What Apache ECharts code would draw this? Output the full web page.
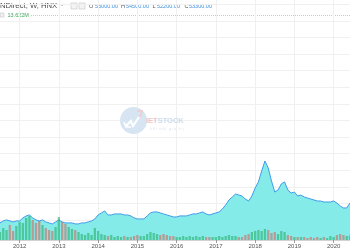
<!DOCTYPE html>
<html>
<head>
<meta charset="utf-8">
<script src="https://cdn.jsdelivr.net/npm/echarts@6/dist/echarts.min.js"></script>
<style>html,body{margin:0;padding:0;background:#fff}#c{width:350px;height:250px}</style>
</head>
<body>
<div id="c"></div>
<script>
// Monthly categories: 2011-07 .. 2020-06
const startYear = 2011, startMonth = 7, monthCount = 108;
const months = [];
for (let k = 0; k < monthCount; k++) {
  const m = startMonth - 1 + k;
  const y = startYear + Math.floor(m / 12);
  const mm = (m % 12) + 1;
  months.push(y + '-' + (mm < 10 ? '0' + mm : mm));
}
const yearLabels = ['2012','2013','2014','2015','2016','2017','2018','2019','2020'];

// Price (thousand VND)
const price = [
  41.3,42.5,43.1,42.5,41.9,42.5,42.5,44.3,45.5,46.1,44.3,43.1,
  42.5,43.1,41.9,41.3,40.7,41.9,43.1,41.9,41.3,41.3,41.3,40.7,
  40.7,41.3,41.3,41.9,42.5,43.7,46.1,47.3,48.5,46.1,46.1,46.7,
  46.7,46.7,46.1,46.1,45.5,44.3,43.7,43.7,43.7,45.5,47.3,47.9,
  47.9,47.3,46.7,46.1,45.5,44.9,44.9,45.5,45.5,45.5,46.1,46.7,
  46.7,47.3,47.9,46.7,46.1,46.7,47.3,47.9,49.7,52.1,55.1,56.9,
  58.7,58.1,57.5,55.7,54.5,57.5,62.3,66.0,72.6,78.6,74.4,66.6,
  59.9,61.1,64.8,66.0,61.1,59.3,59.9,57.5,58.1,56.9,56.3,55.7,
  55.1,54.5,54.5,53.9,53.9,53.9,54.5,53.3,51.5,50.3,50.3,53.3
];

// Volume (millions of shares)
const volume = [
  24,36,30,45,27,42,54,51,66,72,60,51,
  57,45,36,30,27,39,69,54,48,39,33,30,
  24,18,15,21,15,36,27,18,15,12,15,9,
  12,9,12,9,9,12,15,12,12,18,24,21,
  18,15,18,15,12,12,9,9,12,9,12,9,
  12,9,12,9,9,9,9,12,9,12,15,12,
  12,9,9,15,18,24,27,30,27,33,30,21,
  24,18,27,24,15,12,9,9,9,9,6,9,
  6,9,6,9,6,12,9,15,18,15,12,13.622
];

const header = { name: 'NDirect, W, HNX', open: '53000.00', high: '54500.00', low: '52200.00', close: '53300.00', vol: '13.622M' };

const isJan = (i, v) => String(v).endsWith('-01');

const chart = echarts.init(document.getElementById('c'), null, { renderer: 'canvas' });

const volColors = volume.map((v, i) => (i === 0 || price[i] >= price[i - 1]) ? 'rgba(40,175,105,0.6)' : 'rgba(225,80,70,0.5)');

const hdrFont = '"Liberation Sans", Arial, sans-serif';

chart.setOption({
  animation: false,
  backgroundColor: '#ffffff',
  grid: [
    { left: -2, right: 0, top: 0, bottom: 10 },
    { left: -2, right: 0, top: 4.2, bottom: 13.4 }
  ],
  xAxis: [
    {
      type: 'category', gridIndex: 0, data: months, boundaryGap: false,
      axisLine: { show: true, onZero: false, lineStyle: { color: '#d2d2d2', width: 2 } },
      axisTick: { show: true, interval: isJan, length: 3, lineStyle: { color: '#9a9a9a', width: 1 } },
      axisLabel: { interval: isJan, formatter: v => yearLabels.includes(v.slice(0, 4)) ? v.slice(0, 4) : '', fontSize: 6, color: '#555', margin: 3, fontFamily: hdrFont },
      splitLine: { show: true, interval: isJan, lineStyle: { color: '#f0f0f0', width: 1 } }
    },
    { type: 'category', gridIndex: 1, data: months, boundaryGap: false, show: false }
  ],
  yAxis: [
    { type: 'value', gridIndex: 0, min: 31.0, max: 175.6, show: false },
    { type: 'value', gridIndex: 0, min: 0, max: 720, show: false },
    {
      type: 'value', gridIndex: 1, min: 0, max: 14, interval: 1,
      axisLabel: { show: false }, axisTick: { show: false }, axisLine: { show: false },
      splitLine: { show: true, lineStyle: { color: '#f0f0f0', width: 1 } }
    }
  ],
  series: [
    {
      type: 'line', xAxisIndex: 0, yAxisIndex: 0, data: price, symbol: 'none',
      lineStyle: { color: '#3f9be8', width: 1 },
      areaStyle: { color: '#84ebe9', opacity: 1, origin: 'start' },
      z: 2
    },
    {
      type: 'bar', xAxisIndex: 0, yAxisIndex: 1,
      data: volume.map((v, i) => ({ value: v, itemStyle: { color: volColors[i] } })),
      barWidth: '70%', z: 3
    }
  ],
  graphic: [
    { type: 'text', left: 0, top: 1.5, style: { text: header.name, fontSize: 7.7, fill: '#4a4a4a', font: '7.7px ' + hdrFont } },
    { type: 'text', left: 61, top: 2, style: { text: '-', fontSize: 6, fill: '#888', font: '6px ' + hdrFont } },
    { type: 'rect', shape: { x: 71, y: 3, width: 6, height: 6 }, style: { fill: '#f4f4f4', stroke: '#c8c8c8', lineWidth: 0.7 } },
    { type: 'rect', shape: { x: 79, y: 3, width: 6, height: 6 }, style: { fill: '#f4f4f4', stroke: '#c8c8c8', lineWidth: 0.7 } },
    { type: 'text', left: 89, top: 3.3, style: { text: 'O', fill: '#555', font: '5.5px ' + hdrFont } },
    { type: 'text', left: 95, top: 3.3, style: { text: header.open, fill: '#3b8fe0', font: '5.5px ' + hdrFont } },
    { type: 'text', left: 121, top: 3.3, style: { text: 'H', fill: '#555', font: '5.5px ' + hdrFont } },
    { type: 'text', left: 126, top: 3.3, style: { text: header.high, fill: '#3b8fe0', font: '5.5px ' + hdrFont } },
    { type: 'text', left: 152.5, top: 3.3, style: { text: 'L', fill: '#555', font: '5.5px ' + hdrFont } },
    { type: 'text', left: 157, top: 3.3, style: { text: header.low, fill: '#3b8fe0', font: '5.5px ' + hdrFont } },
    { type: 'text', left: 184.5, top: 3.3, style: { text: 'C', fill: '#555', font: '5.5px ' + hdrFont } },
    { type: 'text', left: 189, top: 3.3, style: { text: header.close, fill: '#3b8fe0', font: '5.5px ' + hdrFont } },
    { type: 'rect', shape: { x: 0, y: 13, width: 4, height: 4 }, style: { fill: '#f0f0f0', stroke: '#c8c8c8', lineWidth: 0.6 } },
    { type: 'text', left: 7.5, top: 12.8, style: { text: header.vol, fill: '#3aa655', font: '5.5px ' + hdrFont } },
    { type: 'line', shape: { x1: 31, y1: 15.5, x2: 350, y2: 15.5 }, style: { stroke: '#a9d2f2', lineWidth: 1, lineDash: [1, 1] } },
    // watermark
    { type: 'circle', shape: { cx: 133.5, cy: 120.5, r: 13.5 }, style: { fill: '#d7e5f2' }, z: 10 },
    { type: 'polyline', shape: { points: [[126, 126], [131, 121], [133, 126], [139, 117]] }, style: { stroke: '#ffffff', lineWidth: 2.2, fill: null }, z: 11 },
    { type: 'polyline', shape: { points: [[124, 122], [126, 127], [131, 127]] }, style: { stroke: '#ffffff', lineWidth: 1.6, fill: null }, z: 11 },
    { type: 'polyline', shape: { points: [[137, 111], [142, 111], [140, 117]] }, style: { stroke: '#f3c9c9', lineWidth: 1.6, fill: null }, z: 11 },
    { type: 'text', left: 146, top: 116.5, style: { text: '{r|IET}{b|STOCK}', rich: { r: { fill: '#f2c4c4', font: 'bold 7.5px ' + hdrFont }, b: { fill: '#c9dbec', font: 'bold 7.5px ' + hdrFont } } }, z: 11 },
    { type: 'text', left: 150, top: 127.5, style: { text: 'k ế t   n ố i   g i á   t r ị', fill: '#d4dee8', font: '3.5px ' + hdrFont }, z: 11 }
  ]
});
</script>
</body>
</html>
